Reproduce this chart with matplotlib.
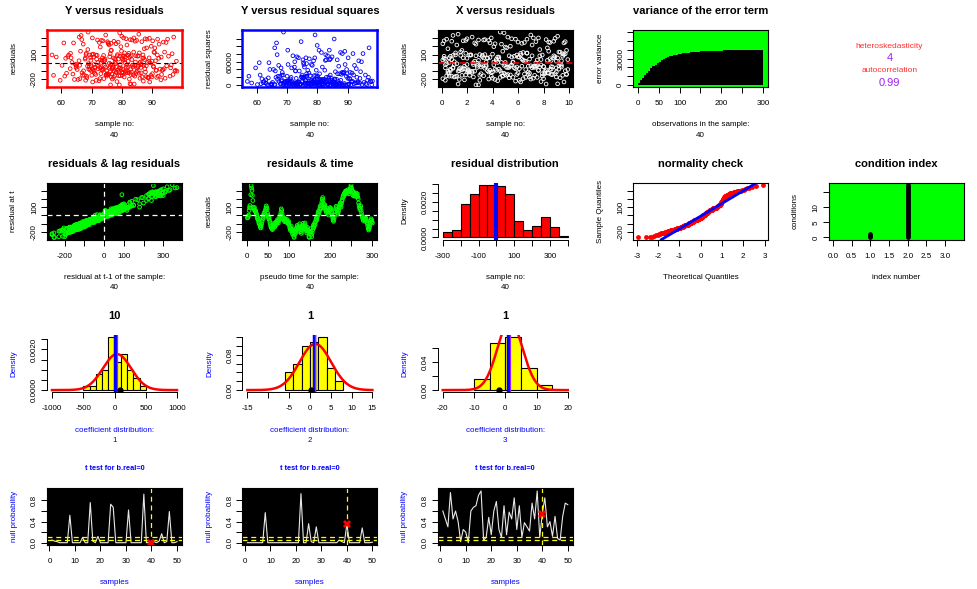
import numpy as np
import matplotlib
matplotlib.use("Agg")
import matplotlib.pyplot as plt
from statistics import NormalDist

plt.rcParams['font.family'] = ['Liberation Sans', 'DejaVu Sans']

# ---------------- data ----------------
resid = [
    -30, -25, -10, 5, 60, 95, 120, 90, 250, 360, 330, 300, 240, 180, 100, 85, 70, 95, 60, 45,
    55, 30, 10, -15, -40, -30, -55, -80, -100, -95, -120, -140, -150, -125, -100, -70, -45, -20, -35, 10,
    25, 40, 5, 60, 85, 115, 95, 75, 30, 5, -20, -40, -25, -60, -85, -110, -135, -150, -120, -160,
    -170, -140, -115, -95, -120, -140, -130, -100, -80, -110, -95, -70, -50, -75, -90, -60, -40, -20, -45, 5,
    35, 80, 60, 20, -10, -35, -50, -30, -60, -75, -55, -40, -65, -80, -70, -50, -85, -100, -90, -75,
    -110, -140, -160, -180, -150, -130, -170, -200, -225, -185, -210, -252, -265, -230, -190, -160, -175, -205, -150, -120,
    -135, -165, -190, -155, -125, -100, -140, -170, -195, -215, -180, -150, -120, -95, -130, -160, -145, -110, -90, -125,
    -155, -185, -210, -170, -145, -175, -200, -255, -265, -220, -190, -160, -195, -230, -255, -210, -175, -140, -115, -150,
    -120, -90, -110, -75, -50, -30, -55, -20, 0, 25, 50, 20, 45, 80, 110, 75, 95, 130, 160, 195,
    215, 180, 140, 115, 90, 130, 100, 70, 55, 35, 60, 85, 50, 25, 5, 40, 65, 80, 95, 85,
    70, 45, 20, -5, -30, -55, -70, -45, -20, 10, 45, 80, 110, 95, 70, 40, 15, 30, 55, 85,
    105, 130, 150, 125, 100, 140, 170, 190, 215, 240, 225, 255, 270, 250, 280, 295, 265, 285, 300, 275,
    290, 310, 280, 260, 285, 300, 320, 345, 370, 335, 310, 290, 245, 285, 235, 275, 240, 265, 230, 255,
    270, 245, 230, 260, 225, 200, 150, 120, 95, 70, 90, 115, 60, 30, 0, -20, -35, -60, -45, -25,
    -50, -70, -55, -30, -45, -65, -80, -100, -130, -155, -175, -160, -140, -110, -90, -60, -40, -55, -75, -90,
]

x_vals = [
    3.2, 7.8, 0.4, 5.6, 9.1, 2.3, 6.7, 1.5, 8.4, 4.9, 0.9, 7.2, 3.8, 5.1, 9.6, 2.7, 6.0, 1.1, 8.8, 4.3,
    0.2, 6.4, 3.5, 9.3, 1.8, 7.5, 5.3, 2.1, 8.1, 4.6, 0.6, 9.8, 3.0, 6.9, 1.3, 5.8, 8.6, 2.5, 7.0, 4.1,
    9.4, 0.8, 5.0, 3.3, 7.7, 1.9, 6.2, 8.9, 2.9, 4.4, 0.3, 7.3, 5.5, 9.0, 1.6, 3.7, 6.5, 2.2, 8.3, 4.8,
    1.0, 6.8, 3.9, 9.7, 0.5, 5.2, 7.9, 2.6, 8.5, 4.0, 1.4, 6.1, 3.1, 9.2, 0.7, 5.7, 7.4, 2.0, 8.0, 4.7,
    0.1, 9.5, 3.6, 6.6, 1.2, 5.4, 8.7, 2.8, 7.1, 4.2, 0.9, 6.3, 3.4, 9.9, 1.7, 5.9, 8.2, 2.4, 7.6, 4.5,
    2.0, 8.6, 0.6, 5.3, 9.5, 3.1, 6.9, 1.4, 7.8, 4.0, 0.3, 9.1, 2.7, 6.2, 8.0, 3.9, 5.6, 1.8, 7.3, 4.7,
    9.8, 1.1, 6.4, 3.3, 8.4, 0.5, 5.0, 2.5, 7.0, 4.4, 9.3, 1.6, 6.0, 3.6, 8.9, 0.8, 5.4, 2.2, 7.6, 4.9,
    0.4, 7.2, 3.0, 9.0, 1.9, 6.6, 4.2, 8.2, 2.9, 5.8, 0.1, 7.9, 3.7, 9.6, 1.3, 6.1, 4.6, 8.7, 2.4, 5.1,
    8.1, 2.1, 6.8, 0.7, 9.4, 3.5, 5.2, 1.0, 7.4, 4.3, 8.5, 2.6, 6.3, 0.2, 9.7, 3.2, 5.9, 1.5, 7.7, 4.1,
    1.2, 8.3, 4.8, 6.7, 0.9, 9.2, 3.4, 5.5, 2.0, 7.5, 1.7, 8.8, 4.5, 6.5, 0.6, 9.9, 3.8, 5.7, 2.3, 7.1,
    6.1, 0.3, 9.0, 2.8, 4.9, 7.3, 1.4, 8.0, 3.1, 5.6, 6.9, 0.7, 9.5, 2.2, 4.4, 7.8, 1.0, 8.6, 3.6, 5.3,
    4.0, 9.3, 1.6, 6.4, 3.0, 8.4, 0.5, 5.0, 7.1, 2.6, 4.7, 9.7, 1.9, 6.0, 3.4, 8.9, 0.2, 5.8, 7.6, 2.9,
    5.5, 2.4, 8.2, 0.8, 6.7, 3.9, 9.1, 1.3, 4.6, 7.0, 5.2, 2.0, 8.5, 0.4, 6.3, 3.3, 9.6, 1.7, 4.2, 7.4,
    3.7, 6.5, 0.1, 8.8, 2.7, 5.4, 9.8, 1.1, 7.9, 4.5, 3.2, 6.2, 0.6, 8.3, 2.5, 5.0, 9.2, 1.5, 7.2, 4.1,
    7.7, 1.8, 5.1, 9.4, 3.5, 0.9, 6.6, 2.1, 8.1, 4.8, 7.5, 1.2, 5.9, 9.0, 3.8, 0.3, 6.8, 2.8, 8.6, 4.3,
]

y_vals = [
    74.2, 81.5, 68.9, 88.3, 77.1, 62.4, 85.7, 71.8, 93.6, 79.2, 66.5, 83.9, 75.4, 90.8, 70.1, 80.6, 58.3, 86.9, 73.5, 78.8,
    92.1, 69.7, 84.4, 76.3, 64.9, 87.2, 72.6, 82.8, 97.4, 67.3, 79.9, 74.8, 89.5, 61.7, 81.1, 76.9, 85.3, 70.7, 94.7, 77.7,
    65.8, 83.2, 73.1, 88.9, 78.4, 68.2, 91.6, 75.9, 80.3, 63.5, 86.1, 72.2, 96.2, 79.5, 69.4, 84.7, 76.6, 57.4, 82.3, 74.9,
    89.8, 71.3, 78.1, 85.0, 66.8, 93.0, 75.1, 81.9, 70.4, 87.7, 77.4, 62.9, 83.6, 73.8, 91.2, 79.0, 68.6, 86.4, 76.0, 80.9,
    72.9, 95.3, 67.9, 82.0, 77.9, 88.0, 74.5, 60.2, 84.9, 79.7, 70.9, 90.3, 76.7, 65.2, 87.5, 81.4, 73.3, 98.1, 78.6, 69.0,
    83.1, 75.6, 91.9, 68.4, 80.1, 73.0, 86.6, 64.3, 78.3, 94.2, 71.5, 82.6, 76.2, 89.1, 66.1, 84.2, 77.2, 92.8, 70.0, 81.7,
    63.8, 87.9, 74.0, 79.4, 85.6, 69.9, 96.8, 76.4, 82.4, 72.4, 88.6, 67.6, 80.4, 75.0, 90.0, 61.1, 83.7, 78.0, 93.3, 71.0,
    77.6, 85.9, 68.0, 80.7, 74.7, 91.4, 65.5, 84.0, 79.1, 87.0, 72.7, 95.8, 76.8, 70.3, 82.9, 59.6, 88.4, 75.3, 81.2, 67.0,
    86.3, 73.6, 78.9, 92.5, 69.2, 83.4, 77.0, 64.6, 89.3, 74.1, 80.0, 97.9, 71.6, 85.1, 76.1, 62.1, 81.8, 90.5, 68.7, 79.6,
    75.7, 88.1, 66.3, 82.2, 73.9, 94.0, 78.5, 70.6, 86.8, 80.8, 63.2, 84.5, 77.5, 91.0, 72.0, 87.4, 69.6, 79.3, 56.9, 83.0,
    81.0, 67.8, 89.9, 75.8, 84.1, 71.1, 93.9, 78.2, 65.0, 86.0, 74.4, 80.2, 96.5, 69.3, 82.5, 77.8, 88.8, 73.4, 61.4, 85.4,
    70.5, 83.8, 76.5, 90.7, 68.1, 79.8, 87.3, 72.8, 81.6, 64.0, 92.2, 75.2, 84.8, 78.7, 66.7, 89.0, 73.7, 95.0, 80.5, 71.9,
    87.6, 65.9, 82.7, 77.3, 91.7, 70.2, 79.9, 85.5, 68.8, 74.6, 97.0, 81.3, 72.5, 88.2, 76.4, 83.3, 60.8, 90.1, 75.5, 86.5,
    73.2, 94.5, 78.0, 84.3, 67.2, 89.6, 76.3, 80.8, 71.4, 92.9, 82.1, 63.0, 87.1, 74.3, 85.8, 79.4, 69.8, 96.0, 77.1, 83.5,
    90.4, 72.1, 86.2, 66.0, 81.9, 75.8, 93.4, 70.8, 84.6, 78.9, 88.7, 68.3, 82.9, 76.0, 97.6, 73.0, 85.2, 64.8, 80.3, 91.3,
]

# variance of the error term (every 5th observation)
var_obs = list(range(5, 301, 5))
err_var = [2000, 5000, 8000, 11000, 13700, 16300, 18800, 21000, 23000, 24800,
           26500, 28000, 29300, 30500, 31500, 32400, 33200, 33900, 34500, 35000,
           35400, 35800, 36200, 36500, 36800, 37100, 37300, 37500, 37700, 37900,
           38100, 38200, 38300, 38400, 38500, 38600, 38700, 38800, 38900, 39000,
           39050, 39100, 39150, 39200, 39250, 39300, 39350, 39400, 39450, 39500,
           39520, 39540, 39560, 39580, 39600, 39620, 39640, 39660, 39680, 39700]

hetero_label, hetero_value = "heteroskedasticity", "4"
autocorr_label, autocorr_value = "autocorrelation", "0.99"

# residual histogram
resid_edges = [-300, -250, -200, -150, -100, -50, 0, 50, 100, 150, 200, 250, 300, 350, 400]
resid_dens = [0.00032, 0.00043, 0.00188, 0.00242, 0.00296, 0.00296, 0.00290,
              0.00242, 0.00094, 0.00043, 0.00066, 0.00116, 0.00060, 0.00006]
resid_mean = 0

# condition index
cond_x = [1, 2]
cond_val = [1.2, 17.4]

# coefficient distributions
coef_titles = ["10", "1", "1"]
coef_true = [10, 1, 1]
coef_mean = [40, 1.3, 1.5]
coef_sd = [225, 3.8, 4.0]
coef_sample = [90, 0.2, -2.0]
coef_edges = [[-500, -400, -300, -200, -100, 0, 100, 200, 300, 400, 500],
              [-6, -4, -2, 0, 2, 4, 6, 8],
              [-10, -5, 0, 5, 10, 15]]
coef_dens = [[0.0002, 0.0002, 0.0008, 0.0010, 0.0026, 0.0014, 0.0018, 0.0010, 0.0006, 0.0002],
             [0.04, 0.06, 0.10, 0.11, 0.12, 0.05, 0.02],
             [0.016, 0.068, 0.076, 0.032, 0.008]]
coef_xticks = [[-1000, -500, 0, 500, 1000], [-15, -10, -5, 0, 5, 10, 15], [-20, -10, 0, 10, 20]]
coef_xlabels = [["-1000", "-500", "0", "500", "1000"], ["-15", "", "-5", "0", "5", "10", "15"],
                ["-20", "-10", "0", "10", "20"]]
coef_yticks = [[0, 0.0005, 0.001, 0.0015, 0.002, 0.0025], [0, 0.02, 0.04, 0.06, 0.08, 0.10, 0.12],
               [0, 0.02, 0.04, 0.06]]
coef_ylabels = [["0.0000", "", "", "", "0.0020", ""], ["0.00", "", "", "", "0.08", "", ""],
                ["0.00", "", "0.04", ""]]

# t-test null probabilities
pvals = [
    [0.05, 0.03, 0.02, 0.0, 0.0, 0.0, 0.0, 0.52, 0.0, 0.0,
     0.0, 0.0, 0.1, 0.0, 0.0, 0.76, 0.03, 0.0, 0.12, 0.0,
     0.0, 0.0, 0.0, 0.73, 0.67, 0.0, 0.0, 0.0, 0.0, 0.0,
     0.62, 0.0, 0.0, 0.0, 0.0, 0.0, 0.92, 0.0, 0.0, 0.0,
     0.02, 0.0, 0.03, 0.17, 0.0, 0.02, 0.59, 0.0, 0.0, 0.02],
    [0.0, 0.0, 0.0, 0.0, 0.0, 0.0, 0.0, 0.57, 0.0, 0.0,
     0.0, 0.0, 0.0, 0.0, 0.0, 0.0, 0.0, 0.0, 0.0, 0.0,
     0.0, 0.93, 0.0, 0.0, 0.36, 0.02, 0.0, 0.3, 0.0, 0.0,
     0.0, 0.0, 0.0, 0.0, 0.0, 0.0, 0.05, 0.02, 0.0, 0.35,
     0.0, 0.0, 0.0, 0.0, 0.0, 0.28, 0.0, 0.0, 0.0, 0.01],
    [0.6, 0.45, 0.3, 0.95, 0.45, 0.6, 0.4, 0.02, 0.25, 0.2,
     0.0, 0.6, 0.67, 0.7, 0.9, 0.98, 0.05, 0.1, 0.48, 0.15,
     0.6, 0.78, 0.25, 0.1, 0.7, 0.15, 0.58, 0.45, 0.85, 0.25,
     0.7, 0.1, 0.38, 0.3, 0.22, 0.75, 0.45, 0.98, 0.1, 0.55,
     0.85, 0.3, 0.4, 0.12, 0.5, 0.08, 0.05, 0.5, 0.75, 0.72],
]
sample_no = 40
sig_levels = [0.05, 0.1]

# ---------------- figure ----------------
W, H = 977, 589
fig = plt.figure(figsize=(W / 100, H / 100), dpi=100)
CW, RH = 195.4, 152.6
TICK_FS = 5.8
LAB_FS = 5.8
TITLE_FS = 8


def cell_axes(row, col, x0=47, x1=182, y0=30, y1=87):
    cx, cy = col * CW, row * RH
    l = (cx + x0) / W
    r = (cx + x1) / W
    t = 1 - (cy + y0) / H
    b = 1 - (cy + y1) / H
    return fig.add_axes([l, b, r - l, t - b])


def ftext(x, y, s, size=LAB_FS, color='black', weight='normal', rot=0):
    fig.text(x / W, 1 - y / H, s, ha='center', va='center', fontsize=size,
             color=color, fontweight=weight, rotation=rot)


def labels(row, col, title, xl1, xl2, yl, color='black', title_fs=TITLE_FS, title_color='black'):
    cx, cy = col * CW, row * RH
    if title:
        ftext(cx + 114.5, cy + 11, title, size=title_fs, weight='bold', color=title_color)
    if xl1:
        ftext(cx + 114.5, cy + 125, xl1, color=color)
    if xl2:
        ftext(cx + 114.5, cy + 135, xl2, color=color)
    if yl:
        ftext(cx + 14, cy + 58.5, yl, color=color, rot=90)


def style(ax, xt, xl, yt, yl, box=True, bc='black', blw=0.8):
    ax.set_xticks(xt)
    ax.set_xticklabels(xl)
    ax.set_yticks(yt)
    ax.set_yticklabels(yl, rotation=90, va='center')
    ax.tick_params(axis='both', direction='out', length=4, width=0.7,
                   labelsize=TICK_FS, colors='black')
    ax.tick_params(axis='x', pad=5.5)
    ax.tick_params(axis='y', pad=2.5)
    for sp in ax.spines.values():
        sp.set_visible(box)
        sp.set_color(bc)
        sp.set_linewidth(blw)
    if not box:
        ax.spines['left'].set_visible(True)
        ax.spines['bottom'].set_visible(True)
        ax.spines['left'].set_bounds(yt[0], yt[-1])
        ax.spines['bottom'].set_bounds(xt[0], xt[-1])
        ax.spines['left'].set_linewidth(0.7)
        ax.spines['bottom'].set_linewidth(0.7)


def rexp(lo, hi, f=0.04):
    d = (hi - lo) * f
    return lo - d, hi + d


n = min(len(resid), len(x_vals), len(y_vals))
r = np.array(resid[:n], dtype=float)
xv = np.array(x_vals[:n])
yv = np.array(y_vals[:n])
rlim = rexp(r.min(), r.max())
r_ticks = [-200, -100, 0, 100, 200, 300]
r_labels = ["-200", "", "", "100", "", ""]
MS = 7
MLW = 0.6

# Row 1, panel 1: Y versus residuals
ax = cell_axes(0, 0)
ax.scatter(yv, r, s=MS, facecolors='none', edgecolors='red', linewidths=MLW)
ax.axhline(0, color='black', ls=(0, (4, 3)), lw=0.8)
ax.set_xlim(*rexp(yv.min(), yv.max()))
ax.set_ylim(*rlim)
style(ax, [60, 70, 80, 90], ["60", "70", "80", "90"], r_ticks, r_labels, bc='red', blw=1.8)
labels(0, 0, "Y versus residuals", "sample no:", str(sample_no), "residuals")

# Row 1, panel 2: Y versus residual squares
ax = cell_axes(0, 1)
r2 = r ** 2
ax.scatter(yv, r2, s=MS, facecolors='none', edgecolors='blue', linewidths=MLW)
ax.set_xlim(*rexp(yv.min(), yv.max()))
ax.set_ylim(*rexp(0, r2.max()))
style(ax, [60, 70, 80, 90], ["60", "70", "80", "90"],
      [0, 20000, 40000, 60000, 80000, 100000, 120000], ["0", "", "", "60000", "", "", ""],
      bc='blue', blw=1.8)
labels(0, 1, "Y versus residual squares", "sample no:", str(sample_no), "residual squares")

# Row 1, panel 3: X versus residuals
ax = cell_axes(0, 2)
ax.set_facecolor('black')
ax.scatter(xv, r, s=MS, facecolors='none', edgecolors='white', linewidths=MLW)
ax.axhline(0, color='red', ls=(0, (4, 3)), lw=1.1)
ax.set_xlim(*rexp(xv.min(), xv.max()))
ax.set_ylim(*rlim)
style(ax, [0, 2, 4, 6, 8, 10], ["0", "2", "4", "6", "8", "10"], r_ticks, r_labels)
labels(0, 2, "X versus residuals", "sample no:", str(sample_no), "residuals")

# Row 1, panel 4: variance of the error term
ax = cell_axes(0, 3)
ax.set_facecolor('#00ff00')
ax.bar(np.array(var_obs) - 5, err_var, width=5, align='edge', color='black', linewidth=0)
ax.set_xlim(-11, 312)
ax.set_ylim(-2400, 62400)
style(ax, [0, 50, 100, 150, 200, 250, 300], ["0", "50", "100", "", "200", "", "300"],
      [0, 10000, 20000, 30000, 40000, 50000, 60000], ["0", "", "", "30000", "", "", ""])
labels(0, 3, "variance of the error term", "observations in the sample:", str(sample_no), "error variance")

# Row 1, panel 5: text
cx5 = 4 * CW + 108
ftext(cx5, 46, hetero_label, size=6, color='#ff3030')
ftext(cx5, 58, hetero_value, size=8, color='#a020f0')
ftext(cx5, 71, autocorr_label, size=6, color='#ff3030')
ftext(cx5, 83, autocorr_value, size=8, color='#a020f0')

# Row 2, panel 1: lag residuals
ax = cell_axes(1, 0)
ax.set_facecolor('black')
ax.scatter(r[:-1], r[1:], s=MS, facecolors='none', edgecolors='#00ff00', linewidths=0.7)
ax.axhline(0, color='white', ls=(0, (4, 3)), lw=0.9)
ax.axvline(0, color='white', ls=(0, (4, 3)), lw=0.9)
ax.set_xlim(*rlim)
ax.set_ylim(*rlim)
style(ax, r_ticks, ["-200", "", "0", "100", "", "300"], r_ticks, r_labels)
labels(1, 0, "residuals & lag residuals", "residual at t-1 of the sample:", str(sample_no), "residual at t")

# Row 2, panel 2: residuals & time
ax = cell_axes(1, 1)
ax.set_facecolor('black')
t = np.arange(1, n + 1)
ax.scatter(t, r, s=MS, facecolors='none', edgecolors='#00ff00', linewidths=0.7)
ax.axhline(0, color='white', ls=(0, (4, 3)), lw=0.9)
ax.set_xlim(*rexp(1, n))
ax.set_ylim(*rlim)
style(ax, [0, 50, 100, 150, 200, 250, 300], ["0", "50", "100", "", "200", "", "300"], r_ticks, r_labels)
labels(1, 1, "residauls & time", "pseudo time for the sample:", str(sample_no), "residuals")

# Row 2, panel 3: residual distribution
ax = cell_axes(1, 2)
ax.bar(resid_edges[:-1], resid_dens, width=np.diff(resid_edges), align='edge',
       color='red', edgecolor='black', linewidth=0.8)
ax.axvline(resid_mean, color='blue', lw=3)
ax.set_xlim(*rexp(resid_edges[0], resid_edges[-1]))
ax.set_ylim(*rexp(0, max(resid_dens)))
style(ax, [-300, -200, -100, 0, 100, 200, 300, 400], ["-300", "", "-100", "", "100", "", "300", ""],
      [0, 0.0005, 0.001, 0.0015, 0.002, 0.0025, 0.003], ["0.0000", "", "", "", "0.0020", "", ""], box=False)
labels(1, 2, "residual distribution", "sample no:", str(sample_no), "Density")

# Row 2, panel 4: normality check
ax = cell_axes(1, 3)
nd = NormalDist()
srt = np.sort(r)
theo = np.array([nd.inv_cdf((i - 0.5) / n) for i in range(1, n + 1)])
ax.scatter(theo, srt, s=12, color='red', linewidths=0)
q1, q3 = np.percentile(r, [25, 75])
z1, z3 = nd.inv_cdf(0.25), nd.inv_cdf(0.75)
slope = (q3 - q1) / (z3 - z1)
ax.axline((z1, q1), slope=slope, color='blue', lw=2)
ax.set_xlim(*rexp(theo.min(), theo.max()))
ax.set_ylim(*rlim)
style(ax, [-3, -2, -1, 0, 1, 2, 3], ["-3", "-2", "-1", "0", "1", "2", "3"], r_ticks, r_labels)
labels(1, 3, "normality check", "Theoretical Quantiles", "", "Sample Quantiles")

# Row 2, panel 5: condition index
ax = cell_axes(1, 4)
ax.set_facecolor('#00ff00')
for cxv, cv in zip(cond_x, cond_val):
    ax.plot([cxv, cxv], [0, cv], color='black', lw=3.5, solid_capstyle='round')
ax.set_xlim(-0.12, 3.5)
ax.set_ylim(*rexp(0, max(cond_val)))
style(ax, [0, 0.5, 1, 1.5, 2, 2.5, 3], ["0.0", "0.5", "1.0", "1.5", "2.0", "2.5", "3.0"],
      [0, 5, 10, 15], ["0", "5", "10", ""])
labels(1, 4, "condition index", "index number", "", "conditions")

# Row 3: coefficient distributions
for i in range(3):
    ax = cell_axes(2, i)
    ed = coef_edges[i]
    ax.bar(ed[:-1], coef_dens[i], width=np.diff(ed), align='edge', color='yellow',
           edgecolor='black', linewidth=0.8)
    xt = coef_xticks[i]
    xs = np.linspace(xt[0], xt[-1], 500)
    dist = NormalDist(coef_mean[i], coef_sd[i])
    ax.plot(xs, [dist.pdf(v) for v in xs], color='red', lw=1.8)
    ax.axvline(coef_true[i], color='blue', lw=2.5)
    ax.axvline(coef_mean[i], color='#a020f0', lw=0.9)
    ax.plot([coef_sample[i]], [0], 'o', color='black', ms=3.5)
    ax.set_xlim(*rexp(xt[0], xt[-1]))
    ax.set_ylim(*rexp(0, max(coef_dens[i])))
    style(ax, xt, coef_xlabels[i], coef_yticks[i], coef_ylabels[i], box=False)
    labels(2, i, coef_titles[i], "coefficient distribution:", str(i + 1), "Density", color='blue')

# Row 4: t tests
for i in range(3):
    ax = cell_axes(3, i)
    ax.set_facecolor('black')
    p = pvals[i]
    s = np.arange(1, len(p) + 1)
    ax.plot(s, p, color='#e8e8e8', lw=0.8)
    for lvl in sig_levels:
        ax.axhline(lvl, color='yellow', ls=(0, (4, 3)), lw=0.9)
    ax.axvline(sample_no, color='yellow', ls=(0, (4, 3)), lw=0.9)
    ax.plot([sample_no], [p[sample_no - 1]], marker='X', color='red', ms=6, mew=0)
    ax.set_xlim(*rexp(1, len(p)))
    ax.set_ylim(-0.04, 1.04)
    style(ax, [0, 10, 20, 30, 40, 50], ["0", "10", "20", "30", "40", "50"],
          [0, 0.2, 0.4, 0.6, 0.8], ["0.0", "", "0.4", "", "0.8"])
    labels(3, i, "t test for b.real=0", "samples", "", "null probability", color='blue',
           title_fs=5.3, title_color='blue')

fig.savefig("out.png", dpi=100)
